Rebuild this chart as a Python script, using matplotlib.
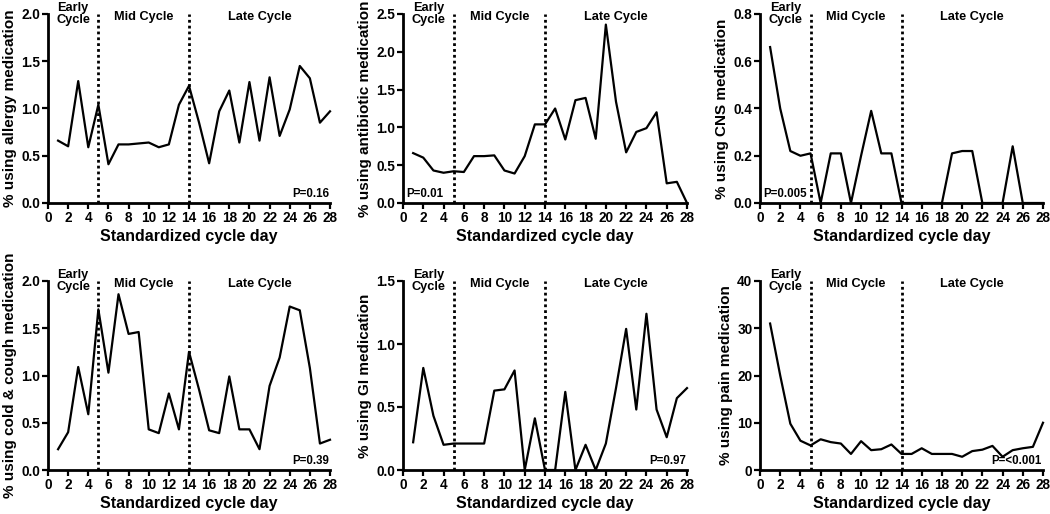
import matplotlib
matplotlib.use("Agg")
from matplotlib import pyplot as plt
from matplotlib.ticker import MultipleLocator, FormatStrFormatter

plt.rcParams['font.family'] = ['Liberation Sans', 'DejaVu Sans']
plt.rcParams['font.weight'] = 'bold'

days = list(range(1, 29))

allergy = [0.66, 0.60, 1.29, 0.59, 1.04, 0.41, 0.62, 0.62, 0.63, 0.64, 0.59, 0.62, 1.04, 1.24,
           0.85, 0.42, 0.97, 1.19, 0.64, 1.28, 0.66, 1.33, 0.71, 0.99, 1.45, 1.32, 0.85, 0.97]
antibiotic = [0.66, 0.60, 0.43, 0.40, 0.42, 0.41, 0.62, 0.62, 0.63, 0.43, 0.39, 0.62, 1.04, 1.04,
              1.25, 0.84, 1.36, 1.39, 0.85, 2.36, 1.34, 0.67, 0.94, 0.99, 1.20, 0.26, 0.28, 0.0]
cns = [0.66, 0.40, 0.22, 0.20, 0.21, 0.0, 0.21, 0.21, 0.0, 0.20, 0.39, 0.21, 0.21, 0.0,
       0.0, 0.0, 0.0, 0.0, 0.21, 0.22, 0.22, 0.0, 0.0, 0.0, 0.24, 0.0, 0.0, 0.0]
cold_cough = [0.22, 0.40, 1.09, 0.59, 1.70, 1.03, 1.86, 1.44, 1.46, 0.43, 0.39, 0.81, 0.43, 1.25,
              0.85, 0.42, 0.39, 0.99, 0.43, 0.43, 0.22, 0.89, 1.19, 1.73, 1.69, 1.08, 0.28, 0.32]
gi = [0.22, 0.81, 0.43, 0.20, 0.21, 0.21, 0.21, 0.21, 0.63, 0.64, 0.79, 0.0, 0.41, 0.0,
      0.0, 0.62, 0.0, 0.20, 0.0, 0.21, 0.65, 1.12, 0.48, 1.24, 0.48, 0.26, 0.57, 0.65]
pain = [31.0, 20.0, 9.8, 6.2, 5.2, 6.5, 5.9, 5.6, 3.4, 6.1, 4.2, 4.4, 5.4, 3.4,
        3.4, 4.6, 3.4, 3.4, 3.4, 2.8, 4.0, 4.3, 5.1, 2.8, 4.2, 4.6, 4.9, 10.0]

ylabels = ["% using allergy medication", "% using antibiotic medication", "% using CNS medication",
           "% using cold & cough medication", "% using GI medication", "% using pain medication"]
ymax = [2.0, 2.5, 0.8, 2.0, 1.5, 40]
ystep = [0.5, 0.5, 0.2, 0.5, 0.5, 10]
pvals = ["P=0.16", "P=0.01", "P=0.005", "P=0.39", "P=0.97", "P=<0.001"]
p_left = [False, True, True, False, False, False]
boundaries = [5, 14]

series = [allergy, antibiotic, cns, cold_cough, gi, pain]

fig = plt.figure(figsize=(10.5, 5.14), dpi=100)
W, H = 1050, 514
lefts = [48, 403, 760]
rights = [330, 687, 1043]
tops = [14, 281]
bottoms = [203, 470]

for i, vals in enumerate(series):
    r, c = divmod(i, 3)
    ax = fig.add_axes([lefts[c] / W, 1 - bottoms[r] / H,
                       (rights[c] - lefts[c]) / W, (bottoms[r] - tops[r]) / H])
    ax.plot(days, vals, color='black', lw=1.6, clip_on=False, zorder=3)
    for b in boundaries:
        ax.plot([b, b], [0, ymax[i]], color='black', lw=2.0, ls=(0, (1, 1.1)), zorder=2)
    ax.set_xlim(0, 28)
    ax.set_ylim(0, ymax[i])
    ax.xaxis.set_major_locator(MultipleLocator(2))
    ax.yaxis.set_major_locator(MultipleLocator(ystep[i]))
    if ystep[i] >= 1:
        ax.yaxis.set_major_formatter(FormatStrFormatter('%d'))
    else:
        ax.yaxis.set_major_formatter(FormatStrFormatter('%.1f'))
    for s in ['top', 'right']:
        ax.spines[s].set_visible(False)
    for s in ['left', 'bottom']:
        ax.spines[s].set_linewidth(2.0)
    ax.tick_params(direction='out', width=1.6, length=4, labelsize=9.8, pad=1.5)
    ax.set_xlabel("Standardized cycle day", fontsize=11.5, fontweight='bold', labelpad=3)
    ax.set_ylabel(ylabels[i], fontsize=11, fontweight='bold', labelpad=3)

    top = ymax[i]
    ax.text(2.5, top, "Early\nCycle", ha='center', va='center', fontsize=9.2, fontweight='bold',
            linespacing=1.05)
    ax.text(9.5, top * 0.985, "Mid Cycle", ha='center', va='center', fontsize=9.2, fontweight='bold')
    ax.text(21, top * 0.985, "Late Cycle", ha='center', va='center', fontsize=9.2, fontweight='bold')
    if p_left[i]:
        ax.text(0.3, top * 0.015, pvals[i], ha='left', va='bottom', fontsize=8.3, fontweight='bold')
    else:
        ax.text(27.9, top * 0.015, pvals[i], ha='right', va='bottom', fontsize=8.3, fontweight='bold')

fig.savefig("out.png", dpi=100)
